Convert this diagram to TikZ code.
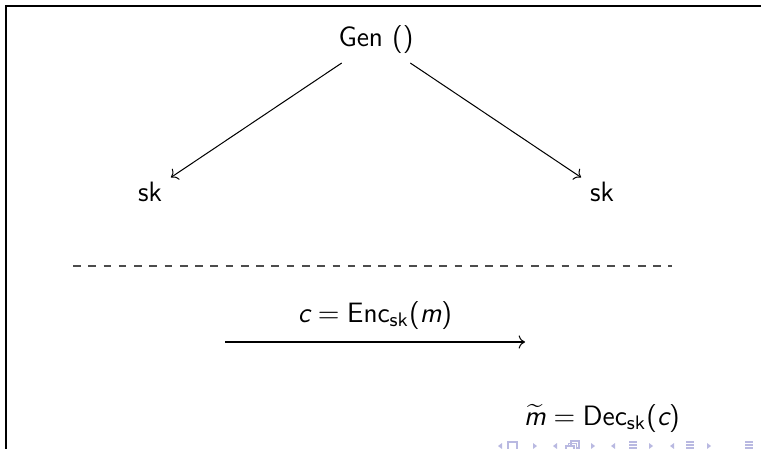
\documentclass[tikz,border=0pt]{standalone}
\usepackage{amsmath}
\usetikzlibrary{arrows.meta,positioning}
\definecolor{navcol}{RGB}{185,185,225}
\newcommand{\sfvar}[1]{\textsf{\itshape #1}}

\begin{document}
\begin{tikzpicture}[x=0.393pt,y=-0.393pt,>=To,
 lbl/.style={font=\fontsize{11}{13}\selectfont\sffamily,anchor=base},
 navtri/.style={fill=navcol},
 navline/.style={draw=navcol,line width=0.6pt}]
\useasboundingbox (0,0) rectangle (761,449);
% edge of the slide frame
\draw[line width=0.6pt] (6,449) -- (6,6) -- (761,6);
\node[lbl] (gen) at (376,47) {Gen ()};
\node[lbl] (skL) at (150,201) {sk};
\node[lbl] (skR) at (602,201) {sk};
\draw[->] (gen) -- (skL);
\draw[->] (gen) -- (skR);
\coordinate (dashL) at (73,266);
\coordinate (dashR) at (672,266);
\draw[dashed,black!70] (dashL) -- (dashR);
\coordinate (encL) at (225,342);
\coordinate (encR) at (525,342);
\draw[->] (encL) -- node[lbl,above=1.5pt] (enc) {$\sfvar{c} = \textsf{Enc}_{\textsf{sk}}\textsf{(}\sfvar{m}\textsf{)}$} (encR);
\node[lbl] (dec) at (602,425) {$\widetilde{\sfvar{m}} = \textsf{Dec}_{\textsf{sk}}\textsf{(}\sfvar{c}\textsf{)}$};
% navigation symbols
\foreach \x in {500,555,613,672}
 \fill[navtri] (\x+2,443) -- (\x-2,446) -- (\x+2,449) -- cycle;
\foreach \x in {535,593,651,709}
 \fill[navtri] (\x-2,443) -- (\x+2,446) -- (\x-2,449) -- cycle;
\draw[navline] (508,442) rectangle (517,452);
\draw[navline] (566,446) rectangle (574,453);
\draw[navline] (568.5,443.5) -- (568.5,443.5) (568.5,446) -- (568.5,443.5) -- (576.5,443.5) -- (576.5,450.5) -- (574,450.5);
\draw[navline] (571,446) -- (571,441) -- (579,441) -- (579,448) -- (576.5,448);
\foreach \x in {633,690,749} {
 \draw[navline] (\x-4,442) -- (\x+4,442);
 \draw[navline] (\x-4,445) -- (\x+4,445);
 \draw[navline] (\x-4,448) -- (\x+4,448);
}
\end{tikzpicture}
\end{document}
